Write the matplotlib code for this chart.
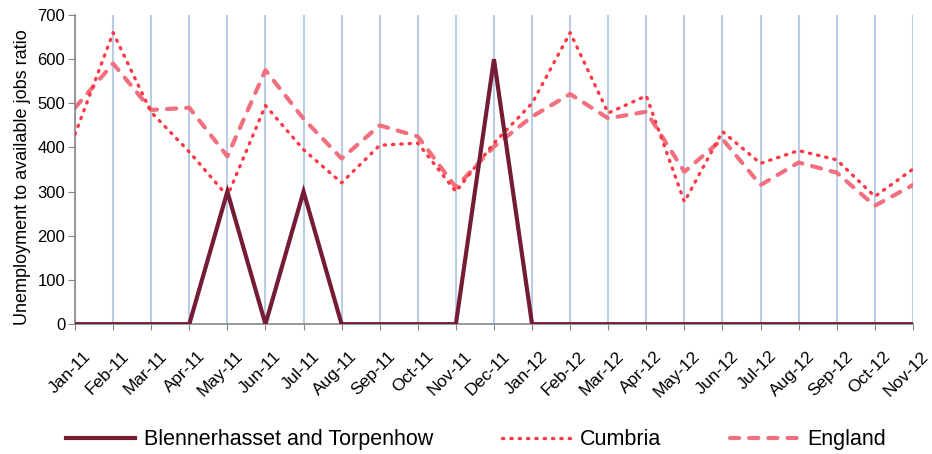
import matplotlib
matplotlib.use("Agg")
import matplotlib.pyplot as plt
from matplotlib.transforms import ScaledTranslation

plt.rcParams['font.family'] = ['Liberation Sans', 'DejaVu Sans']

months = ["Jan-11", "Feb-11", "Mar-11", "Apr-11", "May-11", "Jun-11", "Jul-11",
          "Aug-11", "Sep-11", "Oct-11", "Nov-11", "Dec-11", "Jan-12", "Feb-12",
          "Mar-12", "Apr-12", "May-12", "Jun-12", "Jul-12", "Aug-12", "Sep-12",
          "Oct-12", "Nov-12"]

blennerhasset = [0, 0, 0, 0, 300, 0, 300, 0, 0, 0, 0, 600, 0, 0,
                 0, 0, 0, 0, 0, 0, 0, 0, 0]
cumbria = [430, 660, 480, 390, 290, 495, 395, 320, 405, 410, 300, 410, 500, 660,
           478, 517, 277, 436, 364, 393, 372, 289, 351]
england = [490, 590, 485, 490, 380, 575, 465, 375, 450, 425, 310, 402, 470, 521,
           466, 481, 345, 419, 315, 366, 343, 268, 315]

fig = plt.figure(figsize=(9.32, 4.54), dpi=100)
ax = fig.add_axes([0.0805, 0.286, 0.899, 0.681])

x = list(range(len(months)))
ax.plot(x, blennerhasset, color="#751C35", lw=3, label="Blennerhasset and Torpenhow",
        solid_joinstyle="miter", zorder=4)
ax.plot(x, cumbria, color="#FF3845", lw=2.4, linestyle=(0, (0.4, 2.1)),
        dash_capstyle="round", label="Cumbria", zorder=3)
ax.plot(x, england, color="#F0707F", lw=3, linestyle=(0, (2.2, 2.4)),
        dash_capstyle="round", label="England", zorder=2)

ax.set_xlim(0, len(months) - 1)
ax.set_ylim(0, 700)
ax.set_yticks(range(0, 701, 100))
ax.set_xticks(x)
ax.set_xticklabels(months, rotation=45, ha="right", rotation_mode="anchor", fontsize=12.5)
ax.tick_params(axis="y", labelsize=12, length=5, color="#868686", pad=2)
ax.tick_params(axis="x", length=4.5, color="#868686", pad=13)
shift = ScaledTranslation(8 / 100, 0, fig.dpi_scale_trans)
for lab in ax.get_xticklabels():
    lab.set_transform(lab.get_transform() + shift)

ax.grid(axis="x", color="#B9CDE5", lw=1.5)
ax.set_axisbelow(True)
for s in ["top", "right"]:
    ax.spines[s].set_visible(False)
for s in ["left", "bottom"]:
    ax.spines[s].set_color("#868686")
    ax.spines[s].set_linewidth(1.2)

ax.set_ylabel("Unemployment to available jobs ratio", fontsize=13)
ax.yaxis.set_label_coords(-0.053, 0.475)

fig.legend(loc="center", bbox_to_anchor=(0.511, 0.031), ncol=3, frameon=False,
           fontsize=15.5, handlelength=3.2, handletextpad=0.4, columnspacing=3.2)

fig.savefig("out.png", dpi=100)
